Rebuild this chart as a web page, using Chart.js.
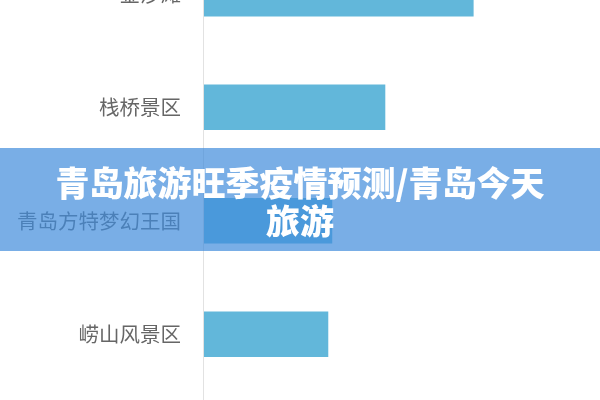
<!DOCTYPE html>
<html>
<head>
<meta charset="utf-8">
<script src="https://cdn.jsdelivr.net/npm/chart.js@4"></script>
<style>
    html, body { margin: 0; padding: 0; background: #fff; }
    body { width: 600px; height: 400px; overflow: hidden; position: relative; }
    #chartWrap { position: absolute; left: 0; top: -63px; width: 600px; height: 463px; }
    #banner {
        position: absolute; left: 0; top: 148px; width: 600px; height: 103px;
        box-sizing: border-box; padding-top: 15px;
        background: rgba(64, 139, 220, 0.7);
        color: #fff; text-align: center;
        font-family: "Noto Sans CJK SC", sans-serif; font-weight: 900;
        font-size: 34px; line-height: 38px;
    }
</style>
</head>
<body>
<div id="chartWrap"><canvas id="spotChart"></canvas></div>
<div id="banner">青岛旅游旺季疫情预测/青岛今天<br>旅游</div>
<script>
// Scenic spots (top one is cut off by the frame)
const spots = ['金沙滩', '栈桥景区', '青岛方特梦幻王国', '崂山风景区'];
const visitors = [68, 45.7, 32.3, 31.3];
const axisMax = 100;

// zero line runs past the plot bottom to the edge of the picture
const zeroLine = {
    id: 'zeroLine',
    beforeDatasetsDraw(chart) {
        const c = chart.ctx;
        const x = chart.scales.x.getPixelForValue(0) - 0.5;
        c.save();
        c.strokeStyle = '#e2e2e2';
        c.lineWidth = 1;
        c.beginPath();
        c.moveTo(x, 0);
        c.lineTo(x, chart.height);
        c.stroke();
        c.restore();
    }
};

const ctx = document.getElementById('spotChart').getContext('2d');
new Chart(ctx, {
    type: 'bar',
    data: {
        labels: spots,
        datasets: [{
            data: visitors,
            backgroundColor: '#62b7da',
            borderWidth: 0,
            barThickness: 45
        }]
    },
    options: {
        indexAxis: 'y',
        responsive: true,
        maintainAspectRatio: false,
        animation: false,
        layout: { padding: { left: 0, right: 0, top: 0, bottom: 9 } },
        plugins: {
            legend: { display: false },
            tooltip: { enabled: false }
        },
        scales: {
            x: {
                display: false,
                min: 0,
                max: axisMax
            },
            y: {
                afterFit: scale => {
                    scale.width = 204;
                    // labels sit inside the category bands, no extra room needed
                    scale.paddingTop = 0;
                    scale.paddingBottom = 0;
                },
                border: { display: false },
                grid: { display: false, drawTicks: false },
                ticks: {
                    padding: 23,
                    color: '#666',
                    font: { family: '"Noto Sans CJK SC", sans-serif', size: 20.5 }
                }
            }
        }
    },
    plugins: [zeroLine]
});
</script>
</body>
</html>
